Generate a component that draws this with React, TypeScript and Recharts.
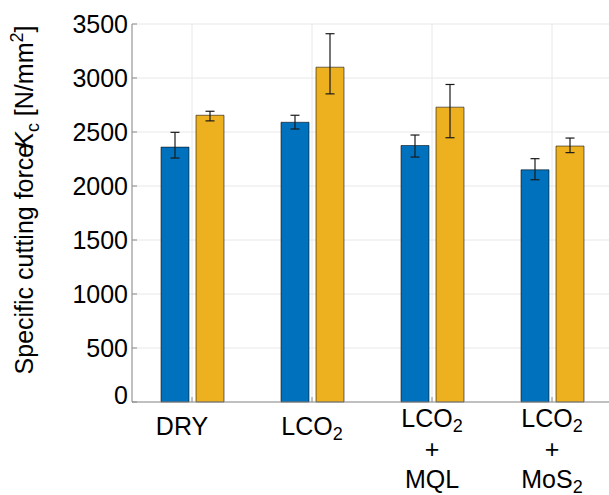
import { BarChart, Bar, XAxis, YAxis, CartesianGrid, ErrorBar, Label } from "recharts"

const FONT = "'Liberation Sans', Arial, Helvetica, sans-serif"

// x tick labels ("_" marks a subscript, "\n" a new line)
const categories = ["DRY", "LCO_2", "LCO_2\n+\nMQL", "LCO_2\n+\nMoS_2"]
const blueValues = [2360, 2590, 2375, 2150]
const blueErrors = [[101, 137], [62, 65], [107, 97], [92, 103]]
const yellowValues = [2655, 3100, 2730, 2370]
const yellowErrors = [[52, 37], [247, 310], [283, 210], [61, 74]]
const yTicks = [0, 500, 1000, 1500, 2000, 2500, 3000, 3500]

const data = categories.map((name, i) => ({
  name,
  blue: blueValues[i],
  blueErr: blueErrors[i],
  yellow: yellowValues[i],
  yellowErr: yellowErrors[i],
}))

function withSub(line: string) {
  const parts = line.split("_")
  if (parts.length === 1) return line
  return [
    <tspan key="a">{parts[0]}</tspan>,
    <tspan key="b" fontSize={18} dy={5}>{parts[1]}</tspan>,
  ]
}

function XTick(props: any) {
  const { x, y, payload, index } = props
  const lines = String(payload.value).split("\n")
  const first = lines.length > 1 ? 25 : 33
  const cx = index === 0 ? x - 10 : x
  return (
    <text textAnchor="middle" fontSize={25} fontFamily={FONT} fill="#000">
      {lines.map((ln, i) => (
        <tspan key={i} x={cx} y={y + first + i * 30.5}>
          {withSub(ln)}
        </tspan>
      ))}
    </text>
  )
}

function YTick(props: any) {
  const { x, y, payload } = props
  const shift = payload.value === 0 ? -7 : 0
  return (
    <text x={x} y={y + shift} dy={9} textAnchor="end" fontSize={25} fontFamily={FONT} fill="#000">
      {payload.value}
    </text>
  )
}

function YTitle() {
  return (
    <text
      x={33}
      y={200}
      transform="rotate(-90, 33, 200)"
      textAnchor="middle"
      fontSize={25}
      fontFamily={FONT}
      fill="#000"
    >
      <tspan>Specific cutting force</tspan>
      <tspan dx={-5} fontStyle="italic">K</tspan>
      <tspan fontSize={18} dy={6}>c</tspan>
      <tspan dy={-6}> [N/mm</tspan>
      <tspan fontSize={18} dy={-10}>2</tspan>
      <tspan dy={10}>]</tspan>
    </text>
  )
}

const axisColor = "#8c8c8c"

export default function App() {
  return (
    <div style={{ position: "absolute", left: 0, top: 0, width: 609, height: 495, overflow: "hidden", background: "#fff" }}>
      <BarChart
        width={628}
        height={495}
        data={data}
        margin={{ top: 24, right: 16, left: 0, bottom: 0 }}
        barSize={28}
        barGap={7}
      >
        <CartesianGrid stroke="#e8e8e8" vertical horizontal />
        <XAxis
          dataKey="name"
          height={93}
          stroke={axisColor}
          tickSize={-5}
          tickMargin={5}
          tick={<XTick />}
          interval={0}
        />
        <XAxis
          xAxisId="top"
          dataKey="name"
          orientation="top"
          height={0}
          stroke={axisColor}
          tickSize={-5}
          tick={() => <g />}
          interval={0}
        />
        <YAxis
          width={132}
          domain={[0, 3500]}
          ticks={yTicks}
          stroke={axisColor}
          tickSize={-5}
          tickMargin={9}
          tick={<YTick />}
          interval={0}
        >
          <Label content={() => <YTitle />} />
        </YAxis>
        <YAxis
          yAxisId="right"
          orientation="right"
          width={0}
          domain={[0, 3500]}
          ticks={yTicks}
          stroke={axisColor}
          tickSize={-5}
          tick={() => <g />}
          interval={0}
        />
        <Bar dataKey="blue" fill="#0072BD" stroke="#000" strokeOpacity={0.55} strokeWidth={1} isAnimationActive={false}>
          <ErrorBar dataKey="blueErr" width={4.5} stroke="#1a1a1a" strokeWidth={1.2} />
        </Bar>
        <Bar dataKey="yellow" fill="#EDB120" stroke="#000" strokeOpacity={0.55} strokeWidth={1} isAnimationActive={false}>
          <ErrorBar dataKey="yellowErr" width={4.5} stroke="#1a1a1a" strokeWidth={1.2} />
        </Bar>
      </BarChart>
    </div>
  )
}
